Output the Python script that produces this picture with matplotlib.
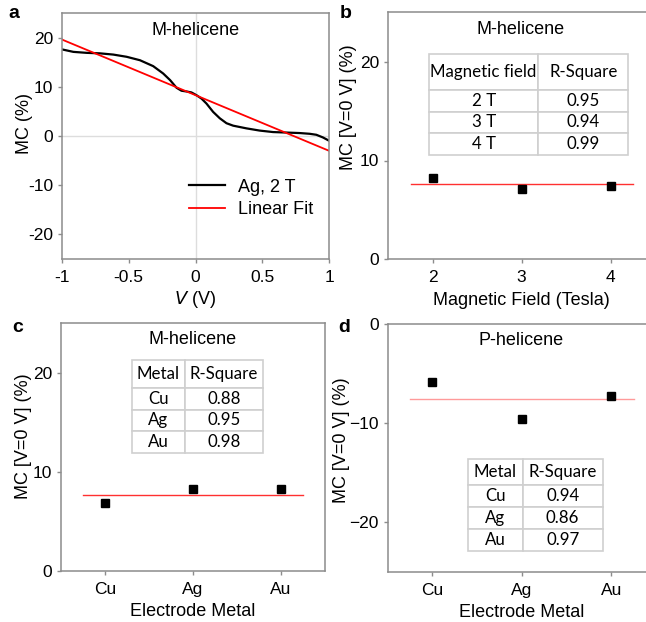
import matplotlib
matplotlib.use("Agg")
import matplotlib.pyplot as plt

plt.rcParams['font.family'] = ['Liberation Sans', 'DejaVu Sans']

# ---- data ----
# panel a: MC vs bias voltage (Ag, 2 T) and its linear fit
v_bias = [-1.0, -0.915, -0.815, -0.716, -0.616, -0.516, -0.416, -0.317, -0.242,
          -0.19, -0.142, -0.105, -0.067, -0.03, 0.007, 0.045, 0.082, 0.132,
          0.182, 0.232, 0.282, 0.382, 0.481, 0.581, 0.681, 0.78, 0.855, 0.905,
          0.955, 1.0]
mc_ag2t = [17.6, 17.1, 16.9, 16.8, 16.55, 16.1, 15.4, 14.2, 12.7, 11.35, 9.8,
           9.2, 9.05, 8.85, 8.3, 7.6, 6.6, 4.9, 3.6, 2.6, 2.1, 1.55, 1.1, 0.8,
           0.7, 0.6, 0.45, 0.25, -0.3, -0.95]
fit_v = [-1.0, 1.0]
fit_mc = [19.6, -3.0]

# panel b: MC at zero bias vs magnetic field
field_t = [2, 3, 4]
mc_field = [8.18, 7.07, 7.43]
field_mean = 7.6
field_table = [["Magnetic field", "R-Square"], ["2 T", "0.95"], ["3 T", "0.94"], ["4 T", "0.99"]]

# panel c / d: MC at zero bias vs electrode metal
metals = ["Cu", "Ag", "Au"]
mc_m = [6.86, 8.25, 8.3]
m_mean = 7.67
m_table = [["Metal", "R-Square"], ["Cu", "0.88"], ["Ag", "0.95"], ["Au", "0.98"]]
mc_p = [-5.9, -9.55, -7.3]
p_mean = -7.55
p_table = [["Metal", "R-Square"], ["Cu", "0.94"], ["Ag", "0.86"], ["Au", "0.97"]]

W, H = 646, 622
fig = plt.figure(figsize=(W / 100, H / 100), dpi=100)


def add_ax(left, top, right, bottom):
    return fig.add_axes([left / W, 1 - bottom / H, (right - left) / W, (bottom - top) / H])


def style(ax):
    for s in ax.spines.values():
        s.set_color('#8c8c8c')
        s.set_linewidth(1.1)
    ax.tick_params(direction='out', length=3, width=1, color='#8c8c8c',
                   labelsize=12.5)
    ax.tick_params(axis='x', pad=5)


def add_table(ax, rows, x0, y0, x1, y1, col_w, head_h, row_h):
    tb = ax.table(cellText=rows, cellLoc='center', bbox=[x0, y0, x1 - x0, y1 - y0])
    tb.auto_set_font_size(False)
    for (r, c), cell in tb.get_celld().items():
        cell.set_edgecolor('#cfcfcf')
        cell.set_linewidth(1.2)
        cell.set_width(col_w[c])
        cell.set_height(head_h if r == 0 else row_h)
        cell.get_text().set_fontfamily('Lato')
        cell.get_text().set_fontsize(12.2)
    return tb


# ---- a ----
ax = add_ax(62, 13, 329, 259)
style(ax)
ax.axhline(0, color='#dddddd', lw=1, zorder=0)
ax.axvline(0, color='#dddddd', lw=1, zorder=0)
ax.plot(v_bias, mc_ag2t, color='black', lw=1.6, label='Ag, 2 T')
ax.plot(fit_v, fit_mc, color='#ff0000', lw=1.3, label='Linear Fit')
ax.set_xlim(-1, 1)
ax.set_ylim(-25, 25)
ax.set_xticks([-1, -0.5, 0, 0.5, 1])
ax.set_xticklabels(['-1', '-0.5', '0', '0.5', '1'])
ax.set_yticks([-20, -10, 0, 10, 20])
ax.set_yticklabels(['-20', '-10', '0', '10', '20'])
ax.set_xlabel('$V$ (V)', fontsize=13, labelpad=3)
ax.set_ylabel('MC (%)', fontsize=13)
ax.yaxis.set_label_coords(-0.109, 0.55)
ax.text(0.5, 0.93, 'M-helicene', transform=ax.transAxes, ha='center', va='center', fontsize=13)
ax.legend(loc='lower right', bbox_to_anchor=(1.0, 0.1), frameon=False, fontsize=13,
          handlelength=2.0, handletextpad=0.7, labelspacing=0.3)
fig.text(8 / W, 1 - 14 / H, 'a', fontsize=14, fontweight='bold', va='center')

# ---- b ----
ax = add_ax(388.3, 12.3, 655, 259.3)
style(ax)
ax.plot([1.75, 4.25], [field_mean, field_mean], color='#ff3030', lw=1)
ax.plot(field_t, mc_field, 's', color='black', ms=5.5)
ax.set_xlim(1.5, 4.5)
ax.set_ylim(0, 25)
ax.set_xticks(field_t)
ax.set_yticks([0, 10, 20])
ax.set_xlabel('Magnetic Field (Tesla)', fontsize=13, labelpad=4.5)
ax.set_ylabel('MC [V=0 V] (%)', fontsize=13)
ax.yaxis.set_label_coords(-0.118, 0.617)
ax.text(0.497, 0.93, 'M-helicene', transform=ax.transAxes, ha='center', va='center', fontsize=13)
add_table(ax, field_table, 0.1526, 0.4223, 0.9, 0.831, [109.3, 90], 36, 21.7)
fig.text(340 / W, 1 - 14 / H, 'b', fontsize=14, fontweight='bold', va='center')

# ---- c ----
ax = add_ax(61, 323.3, 325, 570.7)
style(ax)
ax.plot([-0.25, 2.25], [m_mean, m_mean], color='#ff3030', lw=1)
ax.plot(range(3), mc_m, 's', color='black', ms=5.5)
ax.set_xlim(-0.5, 2.5)
ax.set_ylim(0, 25)
ax.set_xticks(range(3))
ax.set_xticklabels(metals)
ax.set_yticks([0, 10, 20])
ax.set_xlabel('Electrode Metal', fontsize=13, labelpad=4.5)
ax.set_ylabel('MC [V=0 V] (%)', fontsize=13)
ax.yaxis.set_label_coords(-0.11, 0.544)
ax.text(0.5, 0.935, 'M-helicene', transform=ax.transAxes, ha='center', va='center', fontsize=13)
add_table(ax, m_table, 0.268, 0.4745, 0.766, 0.8517, [53.3, 78.3], 27.7, 21.9)
fig.text(12 / W, 1 - 328 / H, 'c', fontsize=14, fontweight='bold', va='center')

# ---- d ----
ax = add_ax(387.7, 324, 656, 571.7)
style(ax)
ax.plot([-0.25, 2.25], [p_mean, p_mean], color='#ff9a9a', lw=1)
ax.plot(range(3), mc_p, 's', color='black', ms=5.5)
ax.set_xlim(-0.5, 2.5)
ax.set_ylim(-25, 0)
ax.set_xticks(range(3))
ax.set_xticklabels(metals)
ax.set_yticks([-20, -10, 0])
ax.set_xlabel('Electrode Metal', fontsize=13, labelpad=4.5)
ax.set_ylabel('MC [V=0 V] (%)', fontsize=13)
ax.yaxis.set_label_coords(-0.142, 0.532)
ax.text(0.497, 0.935, 'P-helicene', transform=ax.transAxes, ha='center', va='center', fontsize=13)
add_table(ax, p_table, 0.2982, 0.0848, 0.8011, 0.4538, [55, 80], 25.7, 21.9)
fig.text(338 / W, 1 - 327 / H, 'd', fontsize=14, fontweight='bold', va='center')

fig.savefig('out.png', dpi=100)
